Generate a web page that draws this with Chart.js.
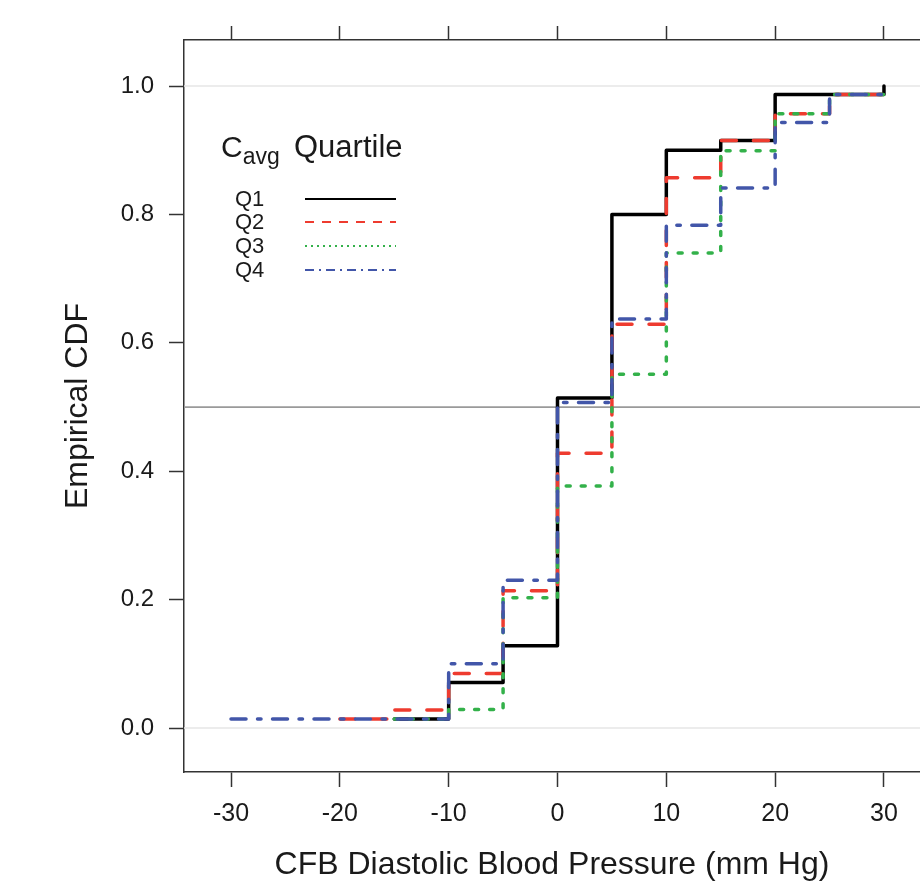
<!DOCTYPE html>
<html>
<head>
<meta charset="utf-8">
<script src="https://cdn.jsdelivr.net/npm/chart.js@4.4.1/dist/chart.umd.min.js"></script>
<style>
html,body{margin:0;padding:0;background:#fff;overflow:hidden;}
canvas{display:block;}
</style>
</head>
<body>
<canvas id="c" width="920" height="883"></canvas>
<script>
// ---- data ----
const seriesNames = ['Q1', 'Q2', 'Q3', 'Q4'];
const xQ1 = [-15, -10, -5, 0, 5, 10, 15, 20, 30];
const yQ1 = [0.014, 0.071, 0.128, 0.514, 0.800, 0.900, 0.915, 0.987, 1.0];
const xQ2 = [-20, -15, -10, -5, 0, 5, 10, 15, 20, 25, 30];
const yQ2 = [0.014, 0.028, 0.085, 0.214, 0.428, 0.629, 0.857, 0.915, 0.957, 0.987, 1.0];
const xQ3 = [-15, -10, -5, 0, 5, 10, 15, 20, 25, 30];
const yQ3 = [0.014, 0.029, 0.203, 0.377, 0.551, 0.740, 0.899, 0.957, 0.987, 1.0];
const xQ4 = [-30, -10, -5, 0, 5, 10, 15, 20, 25, 30];
const yQ4 = [0.014, 0.100, 0.230, 0.507, 0.637, 0.783, 0.841, 0.943, 0.987, 1.0];
const xTicks = [-30, -20, -10, 0, 10, 20, 30];
const yTicks = [0, 0.2, 0.4, 0.6, 0.8, 1.0];
const refLines = [0, 1];
const medianLine = 0.5;

// ---- styles ----
const colors = ['#000000', '#EE3B2F', '#33B14A', '#4256A9'];
const dashes = [[], [15, 17], [4, 11], [15, 11.5, 3.5, 11.5]];
const legendDashes = [[], [9, 8], [2, 4], [9, 5, 2, 5]];
const FONT = '"Liberation Sans", Arial, sans-serif';
const TXT = '#1a1a1a';

const xs = [xQ1, xQ2, xQ3, xQ4];
const ys = [yQ1, yQ2, yQ3, yQ4];

const datasets = seriesNames.map((n, k) => ({
  label: n,
  data: xs[k].map((x, i) => ({x: x, y: ys[k][i]})),
  borderColor: colors[k],
  borderWidth: 3.5,
  borderDash: dashes[k],
  borderCapStyle: 'round',
  borderJoinStyle: 'round',
  stepped: true,
  pointRadius: 0,
  fill: false,
  order: 4 - k
}));

const refPlugin = {
  id: 'refs',
  beforeDatasetsDraw(chart) {
    const {ctx, chartArea: a, scales: {y}} = chart;
    ctx.save();
    ctx.lineWidth = 1.5;
    ctx.strokeStyle = '#e6e6e6';
    refLines.forEach(v => {
      const py = y.getPixelForValue(v);
      ctx.beginPath(); ctx.moveTo(a.left, py); ctx.lineTo(a.right, py); ctx.stroke();
    });
    ctx.strokeStyle = '#9a9a9a';
    ctx.lineWidth = 1.8;
    const pm = y.getPixelForValue(medianLine);
    ctx.beginPath(); ctx.moveTo(a.left, pm); ctx.lineTo(a.right, pm); ctx.stroke();
    ctx.restore();
  }
};

const legendPlugin = {
  id: 'customLegend',
  afterDraw(chart) {
    const ctx = chart.ctx;
    ctx.save();
    ctx.fillStyle = TXT;
    ctx.textBaseline = 'alphabetic';
    ctx.textAlign = 'left';
    ctx.font = '30px ' + FONT;
    ctx.fillText('C', 221, 157);
    const cw = ctx.measureText('C').width;
    ctx.font = '23px ' + FONT;
    ctx.fillText('avg', 221 + cw, 164);
    ctx.font = '31px ' + FONT;
    ctx.fillText('Quartile', 294, 157);
    const rowY = [199, 222, 246, 270];
    seriesNames.forEach((n, k) => {
      ctx.font = '22px ' + FONT;
      ctx.textBaseline = 'middle';
      ctx.fillStyle = TXT;
      ctx.fillText(n, 235, rowY[k] + 1);
      ctx.beginPath();
      ctx.setLineDash(legendDashes[k]);
      ctx.lineWidth = 2;
      ctx.lineCap = 'butt';
      ctx.strokeStyle = colors[k];
      ctx.moveTo(305, rowY[k]);
      ctx.lineTo(396, rowY[k]);
      ctx.stroke();
    });
    ctx.restore();
  }
};

const axisColor = '#333333';

new Chart(document.getElementById('c'), {
  type: 'line',
  data: {datasets: datasets},
  plugins: [refPlugin, legendPlugin],
  options: {
    responsive: false,
    animation: false,
    layout: {padding: 0},
    plugins: {legend: {display: false}, tooltip: {enabled: false}},
    scales: {
      x: {
        type: 'linear',
        position: 'bottom',
        min: -34.32,
        max: 33.31,
        afterBuildTicks: s => { s.ticks = xTicks.map(v => ({value: v})); },
        afterFit: s => { s.height = 111; },
        grid: {drawOnChartArea: false, drawTicks: true, tickLength: 15, tickWidth: 1.5, tickColor: axisColor},
        border: {display: true, color: axisColor, width: 1.5},
        ticks: {font: {family: FONT, size: 25}, color: TXT, padding: 12, maxRotation: 0, autoSkip: false,
                callback: v => String(v)},
        title: {display: true, text: 'CFB Diastolic Blood Pressure (mm Hg)', color: TXT,
                font: {family: FONT, size: 32, lineHeight: 1}, padding: {top: 0, bottom: 1.5}}
      },
      x2: {
        type: 'linear',
        position: 'top',
        min: -34.32,
        max: 33.31,
        afterBuildTicks: s => { s.ticks = xTicks.map(v => ({value: v})); },
        afterFit: s => { s.height = 40; },
        grid: {drawOnChartArea: false, drawTicks: true, tickLength: 14, tickWidth: 1.5, tickColor: axisColor},
        border: {display: true, color: axisColor, width: 1.5},
        ticks: {display: false}
      },
      y: {
        type: 'linear',
        position: 'left',
        min: -0.0685,
        max: 1.0717,
        afterBuildTicks: s => { s.ticks = yTicks.map(v => ({value: v})); },
        afterFit: s => { s.width = 184; },
        grid: {drawOnChartArea: false, drawTicks: true, tickLength: 15, tickWidth: 1.5, tickColor: axisColor},
        border: {display: true, color: axisColor, width: 1.5},
        ticks: {font: {family: FONT, size: 24}, color: TXT, padding: 15, autoSkip: false,
                callback: v => Number(v).toFixed(1)},
        title: {display: true, text: 'Empirical CDF', color: TXT,
                font: {family: FONT, size: 32, lineHeight: 1}, padding: {top: 62, bottom: 0}}
      }
    }
  }
});
</script>
</body>
</html>
